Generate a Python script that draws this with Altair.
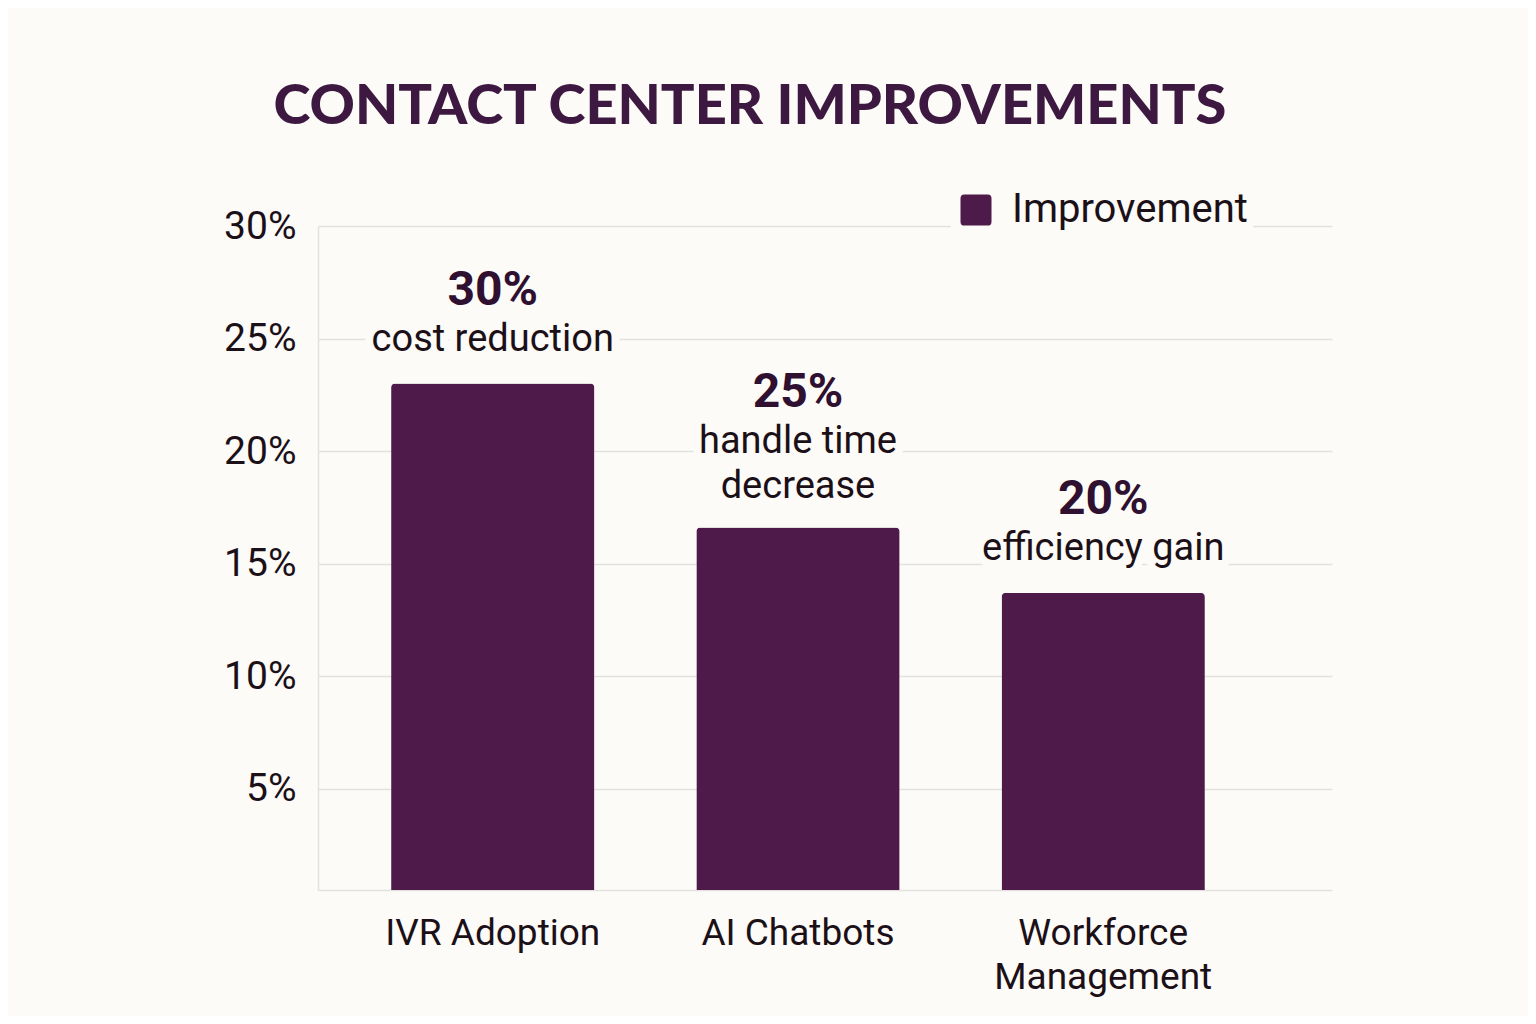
import altair as alt
import pandas as pd

categories = ["IVR Adoption", "AI Chatbots", "Workforce Management"]
values = [23.0, 16.6, 13.7]
headlines = ["30%", "25%", "20%"]
captions = [["cost reduction"], ["handle time", "decrease"], ["efficiency gain"]]
series_name = "Improvement"
y_ticks = [5, 10, 15, 20, 25, 30]

BG = "#fcfbf7"
BAR = "#4d1a4a"
DARK = "#1c1018"
HEAD = "#2f1030"
TITLE = "#3d1840"
GRID = "#e2e1de"

df = pd.DataFrame({
    "category": categories,
    "value": values,
    "headline": headlines,
    "caption": captions,
    "ncap": [len(c) for c in captions],
    "series": [series_name] * len(categories),
})

x_enc = alt.X(
    "category:N",
    sort=categories,
    scale=alt.Scale(paddingInner=0.334, paddingOuter=0.328, align=0.365),
    axis=alt.Axis(
        title=None,
        labelFont="Roboto",
        labelFontSize=37,
        labelColor=DARK,
        labelPadding=25,
        labelLineHeight=44,
        labelAngle=0,
        labelLimit=400,
        ticks=False,
        domainColor=GRID,
        domainWidth=1.5,
        labelExpr="datum.label == 'Workforce Management' ? ['Workforce', 'Management'] : datum.label",
    ),
)
y_scale = alt.Scale(domain=[0.5, 30], zero=False, nice=False, clamp=True)
y_enc = alt.Y(
    "value:Q",
    scale=y_scale,
    axis=alt.Axis(
        title=None,
        values=y_ticks,
        labelExpr="datum.value + '%'",
        labelFont="Roboto",
        labelFontSize=39,
        labelColor=DARK,
        labelPadding=22,
        ticks=False,
        domainColor=GRID,
        domainWidth=1.5,
        gridColor=GRID,
        gridWidth=1.5,
    ),
)

base = alt.Chart(df)
xc = alt.X("category:N", sort=categories)

bars = base.mark_bar(cornerRadiusTopLeft=4, cornerRadiusTopRight=4).encode(
    x=x_enc,
    y=y_enc,
    color=alt.Color(
        "series:N",
        scale=alt.Scale(range=[BAR]),
        legend=alt.Legend(
            title=None,
            orient="none",
            legendX=633,
            legendY=-41,
            symbolType="M-1,-0.75 Q-1,-1 -0.75,-1 L0.75,-1 Q1,-1 1,-0.75 L1,0.75 Q1,1 0.75,1 L-0.75,1 Q-1,1 -1,0.75 Z",
            symbolSize=961,
            symbolStrokeWidth=0,
            symbolFillColor=BAR,
            labelFont="Roboto",
            labelFontSize=40,
            labelColor=DARK,
            labelOffset=16,
            labelLimit=400,
            fillColor=BG,
            padding=5,
        ),
    ),
)

layers = [bars]
for n, cap_dy in [(1, -25), (2, -67)]:
    sub = base.transform_filter(f"datum.ncap == {n}")
    layers.append(sub.mark_text(
        font="Roboto", fontSize=38, baseline="bottom", dy=cap_dy, lineHeight=45,
        stroke=BG, strokeWidth=16, strokeJoin="round", fill=BG,
    ).encode(x=xc, y="value:Q", text="caption"))
    layers.append(sub.mark_text(
        font="Roboto", fontSize=38, baseline="bottom", dy=cap_dy, lineHeight=45, color=DARK,
    ).encode(x=xc, y="value:Q", text="caption"))
    layers.append(sub.mark_text(
        font="Roboto", fontSize=48, fontWeight="bold", baseline="bottom",
        dy=cap_dy - 44, color=HEAD,
    ).encode(x=xc, y="value:Q", text="headline:N"))

chart = alt.layer(*layers).properties(
    width=1014,
    height=664,
    autosize=alt.AutoSizeParams(type="none"),
    padding={"left": 310, "top": 218, "right": 196, "bottom": 126},
    background=BG,
    title=alt.TitleParams(
        text="CONTACT CENTER IMPROVEMENTS",
        font="Lato",
        fontSize=56,
        fontWeight=900,
        color=TITLE,
        anchor="middle",
        frame="group",
        baseline="alphabetic",
        offset=5,
        dx=-75,
    ),
).configure_view(stroke=None)

chart.save("out.html", embed_options={"renderer": "svg", "actions": False})
